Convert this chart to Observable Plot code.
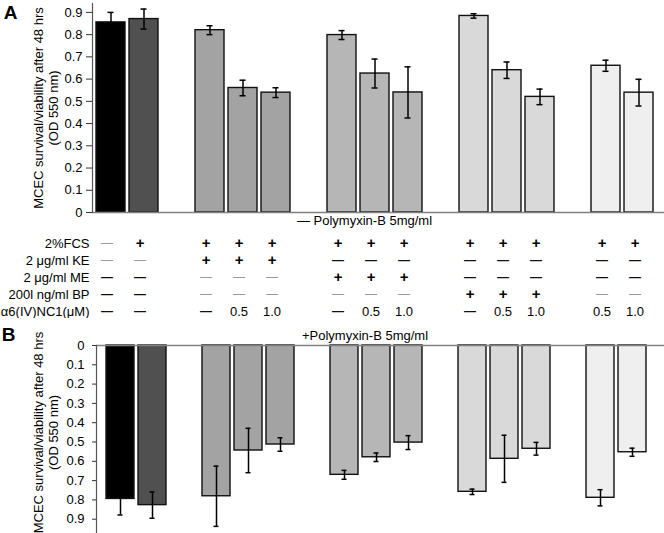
<!DOCTYPE html>
<html><head><meta charset="utf-8">
<script src="https://cdn.jsdelivr.net/npm/d3@7"></script>
<script src="https://cdn.jsdelivr.net/npm/@observablehq/plot@0.6"></script>
<style>
body{margin:0;background:#fff;}
#chart{width:664px;font-family:"Liberation Sans",Arial,Helvetica,sans-serif;}
#chart svg{display:block;}
</style></head><body><div id="chart"></div>
<script>
// ---- data ----
const slots = ["b1","b2","gap1","b3","b4","b5","gap2","b6","b7","b8","gap3","b9","b10","b11","gap4","b12","b13"];
const barIds = ["b1","b2","b3","b4","b5","b6","b7","b8","b9","b10","b11","b12","b13"];
const barGroups = ["none","fcs","ke","ke","ke","me","me","me","bp","bp","bp","nc1","nc1"];
const groupDomain = ["none","fcs","ke","me","bp","nc1"];
const groupColors = ["#000000","#505050","#a3a3a3","#b6b6b6","#d9d9d9","#efefef"];

// Panel A: - Polymyxin-B
const meanA = [0.855,0.870,0.820,0.560,0.539,0.798,0.625,0.540,0.884,0.640,0.520,0.660,0.539];
const errA  = [0.045,0.045,0.020,0.035,0.022,0.020,0.065,0.115,0.010,0.037,0.035,0.025,0.060];
// Panel B: + Polymyxin-B
const meanB = [0.795,0.827,0.781,0.544,0.513,0.670,0.579,0.503,0.758,0.587,0.535,0.789,0.553];
const errB  = [0.083,0.068,0.156,0.115,0.035,0.023,0.022,0.036,0.014,0.122,0.033,0.042,0.021];

const yTicks = [0,0.1,0.2,0.3,0.4,0.5,0.6,0.7,0.8,0.9];
const yLabel1 = "MCEC survival/viability after 48 hrs";
const yLabel2 = "(OD 550 nm)";
const titleA = "— Polymyxin-B 5mg/ml";
const titleB = "+Polymyxin-B 5mg/ml";

// condition table ("~" = light dash, "—" = dark dash)
const rowLabels = ["2%FCS","2 μg/ml KE","2 μg/ml ME","200l ng/ml BP","α6(IV)NC1(μM)"];
const rowFCS = ["~","+","+","+","+","+","+","+","+","+","+","+","+"];
const rowKE  = ["~","~","+","+","+","—","—","—","—","—","—","—","—"];
const rowME  = ["—","—","~","~","~","+","+","+","—","—","—","—","—"];
const rowBP  = ["—","—","~","~","~","~","~","~","+","+","+","~","~"];
const rowNC1 = ["—","—","—","0.5","1.0","—","0.5","1.0","—","0.5","1.0","0.5","1.0"];
const rowCells = [rowFCS,rowKE,rowME,rowBP,rowNC1];

// ---- build ----
const dataA = barIds.map((id,i)=>({id, g:barGroups[i], v:meanA[i], e:errA[i]}));
const dataB = barIds.map((id,i)=>({id, g:barGroups[i], v:meanB[i], e:errB[i]}));
const cells = rowCells.flatMap((r,ri)=>r.map((s,ci)=>({row:rowLabels[ri], id:barIds[ci], s})));

const font = `"Liberation Sans",Arial,Helvetica,sans-serif`;
const fmt = d => d === 0 ? "0" : d.toFixed(1);

function panel(data, opts) {
  const {height, marginTop, marginBottom, marginLeft, marginRight, domain, reverse, tickSize, tickPadding, extra} = opts;
  return Plot.plot({
    width: 664, height, marginTop, marginBottom, marginLeft, marginRight,
    style: {fontFamily: font, fontSize: "13px", color: "#000", background: "#fff"},
    x: {type: "band", domain: slots, padding: 0.12, axis: null},
    y: {domain, reverse, axis: null},
    color: {domain: groupDomain, range: groupColors},
    marks: [
      Plot.barY(data, {x: "id", y: "v", fill: "g", stroke: "#111", strokeWidth: 1.4}),
      Plot.ruleX(data, {x: "id", y1: d => d.v - d.e, y2: d => d.v + d.e, stroke: "#000", strokeWidth: 1.5}),
      Plot.tickY(data, {x: "id", y: d => d.v - d.e, insetLeft: 11.5, insetRight: 11.5, stroke: "#000", strokeWidth: 1.5}),
      Plot.tickY(data, {x: "id", y: d => d.v + d.e, insetLeft: 11.5, insetRight: 11.5, stroke: "#000", strokeWidth: 1.5}),
      Plot.ruleY([0], {stroke: "#808080", strokeWidth: 1.5, insetRight: -7}),
      Plot.frame({anchor: "left", stroke: "#555", strokeWidth: 1.2}),
      Plot.axisY({ticks: yTicks, tickSize, tickPadding, tickFormat: fmt, label: null, fontSize: 13, stroke: "#333", fill: "#000"}),
      Plot.text([yLabel1], {frameAnchor: "left", dx: opts.lab1dx, dy: opts.labdy, rotate: -90, textAnchor: "middle", lineAnchor: "middle", fontSize: 13, fill: "#000"}),
      Plot.text([yLabel2], {frameAnchor: "left", dx: opts.lab2dx, dy: opts.labdy, rotate: -90, textAnchor: "middle", lineAnchor: "middle", fontSize: 13, fill: "#000"}),
      ...extra
    ]
  });
}

const plotA = panel(dataA, {
  height: 228, marginTop: 3, marginBottom: 16, marginLeft: 92, marginRight: 6,
  domain: [0, 0.94], reverse: false, tickSize: 6, tickPadding: 4,
  lab1dx: -54, lab2dx: -39, labdy: 0,
  extra: [
    Plot.text(["A"], {frameAnchor: "top-left", dx: -82, dy: 9, lineAnchor: "middle", textAnchor: "middle", fontSize: 19, fontWeight: "bold", fill: "#000"}),
    Plot.text([titleA], {frameAnchor: "bottom", dx: -11, dy: 8, lineAnchor: "middle", fontSize: 13, fill: "#000"})
  ]
});

const table = Plot.plot({
  width: 664, height: 90, marginTop: 0, marginBottom: 0, marginLeft: 92, marginRight: 6,
  style: {fontFamily: font, fontSize: "13px", color: "#000", background: "#fff"},
  x: {type: "band", domain: slots, padding: 0.12, axis: null},
  y: {type: "point", domain: rowLabels, range: [15, 83], padding: 0, axis: null},
  marks: [
    Plot.text(rowLabels, {y: d => d, frameAnchor: "left", dx: -3, textAnchor: "end", fontSize: 13, fill: "#000"}),
    Plot.text(cells.filter(d => d.s === "+"), {x: "id", y: "row", text: "s", dx: -4, fontSize: 15, fontWeight: "bold", fill: "#000"}),
    Plot.text(cells.filter(d => d.s === "—"), {x: "id", y: "row", text: "s", dx: -4, fontSize: 12, fontWeight: "bold", fill: "#111"}),
    Plot.text(cells.filter(d => d.s === "~"), {x: "id", y: "row", text: () => "—", dx: -4, fontSize: 12, fill: "#9a9a9a"}),
    Plot.text(cells.filter(d => !["+","—","~"].includes(d.s)), {x: "id", y: "row", text: "s", dx: -4, fontSize: 13, fill: "#000"})
  ]
});

const plotB = panel(dataB, {
  height: 215, marginTop: 27, marginBottom: 0, marginLeft: 96, marginRight: 7,
  domain: [0, 0.974], reverse: true, tickSize: 4, tickPadding: 8,
  lab1dx: -58, lab2dx: -43, labdy: -7,
  extra: [
    Plot.text(["B"], {frameAnchor: "top-left", dx: -88, dy: -11, lineAnchor: "middle", textAnchor: "middle", fontSize: 19, fontWeight: "bold", fill: "#000"}),
    Plot.text([titleB], {frameAnchor: "top", dx: -12, dy: -10, lineAnchor: "middle", fontSize: 13, fill: "#000"})
  ]
});

const root = document.getElementById("chart");
root.append(plotA, table, plotB);
</script></body></html>
